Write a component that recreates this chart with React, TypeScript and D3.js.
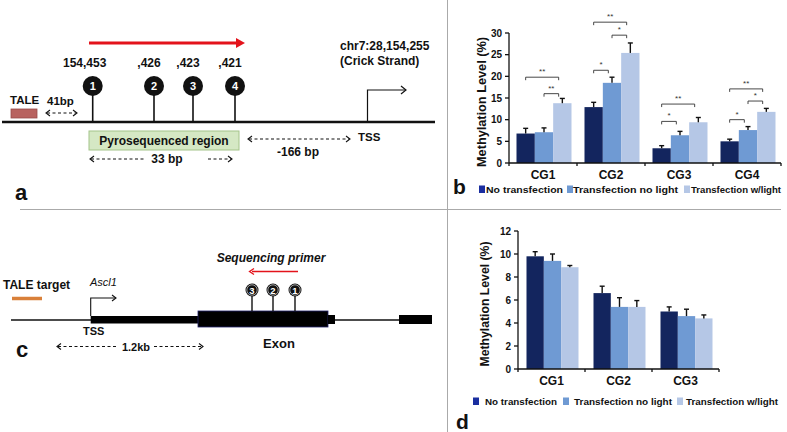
import React from "react";
import * as d3 from "d3";

// ---------- Data ----------
const seriesNames = ["No transfection", "Transfection no light", "Transfection w/light"];
const barColors = ["#13255e", "#6f9ad3", "#b5c7e6"];
const legendColors = ["#1a2ea0", "#6f9ad3", "#b5c7e6"];

// Panel b
const categoriesB = ["CG1", "CG2", "CG3", "CG4"];
const valuesB = [
  [6.8, 12.9, 3.4, 5.0],
  [7.1, 18.5, 6.4, 7.6],
  [13.8, 25.4, 9.4, 11.8],
];
const errTopB = [
  [8.0, 14.0, 4.0, 5.5],
  [8.1, 19.8, 7.3, 8.4],
  [14.9, 27.7, 10.5, 12.6],
];
const yTicksB = [0, 5, 10, 15, 20, 25, 30];
const bracketCat = ["CG1", "CG1", "CG2", "CG2", "CG2", "CG3", "CG3", "CG4", "CG4", "CG4"];
const bracketFrom = [0, 1, 0, 0, 1, 0, 0, 0, 0, 1];
const bracketTo = [2, 2, 1, 2, 2, 2, 1, 2, 1, 2];
const bracketLevel = [19.8, 16.0, 21.4, 32.5, 29.5, 13.6, 9.6, 17.1, 10.0, 14.3];
const bracketLabel = ["**", "**", "*", "**", "*", "**", "*", "**", "*", "*"];

// Panel d
const categoriesD = ["CG1", "CG2", "CG3"];
const valuesD = [
  [9.8, 6.6, 5.0],
  [9.4, 5.4, 4.6],
  [8.85, 5.4, 4.4],
];
const errTopD = [
  [10.2, 7.2, 5.4],
  [10.0, 6.2, 5.2],
  [9.0, 5.95, 4.7],
];
const yTicksD = [0, 2, 4, 6, 8, 10, 12];

// Panel a schematic
const siteNumbersA = ["1", "2", "3", "4"];
const siteLabelsA = ["154,453", ",426", ",423", ",421"];
const sitePosA = [0, 27, 30, 32]; // bp offsets (drawn on a schematic, non-linear axis)
const siteXA = [92.7, 154, 193, 235];

// Panel c schematic
const siteNumbersC = ["3", "2", "1"];
const siteXC = [252, 273, 295];

const FONT = "'Liberation Sans', Arial, Helvetica, sans-serif";

function DashArrow({ x1, x2, y, leftHead = true, rightHead = true, dash = "3,2.5" }: any) {
  return (
    <g stroke="#111" strokeWidth={1.1} fill="none">
      <line x1={x1 + 1} x2={x2 - 1} y1={y} y2={y} strokeDasharray={dash} />
      {leftHead && <polyline points={`${x1 + 4},${y - 3} ${x1},${y} ${x1 + 4},${y + 3}`} />}
      {rightHead && <polyline points={`${x2 - 4},${y - 3} ${x2},${y} ${x2 - 4},${y + 3}`} />}
    </g>
  );
}

function BarChart({
  cats, values, errs, ticks, yMax, x0, x1, yBottom, yTop, inner, brackets, titleX, titleY, titleLen,
}: any) {
  const xB = d3.scaleBand<string>().domain(cats).range([x0, x1]);
  const xS = d3.scaleBand<number>().domain([0, 1, 2]).range(inner);
  const y = d3.scaleLinear().domain([0, yMax]).range([yBottom, yTop]);
  const bw = xS.bandwidth();
  return (
    <g fontFamily={FONT}>
      {values.map((ser: number[], si: number) =>
        ser.map((v: number, ci: number) => {
          const bx = (xB(cats[ci]) as number) + (xS(si) as number);
          const cx = bx + bw / 2;
          return (
            <g key={`${si}-${ci}`}>
              <rect x={bx} y={y(v)} width={bw} height={yBottom - y(v)} fill={barColors[si]} />
              <line x1={cx} x2={cx} y1={y(v)} y2={y(errs[si][ci])} stroke="#111" strokeWidth={1.4} />
              <line x1={cx - 2.5} x2={cx + 2.5} y1={y(errs[si][ci])} y2={y(errs[si][ci])} stroke="#111" strokeWidth={1.4} />
            </g>
          );
        })
      )}
      {/* y axis */}
      <line x1={x0} x2={x0} y1={yBottom} y2={yTop} stroke="#111" strokeWidth={1.3} />
      {ticks.map((t: number) => (
        <g key={t}>
          <line x1={x0 - 4} x2={x0} y1={y(t)} y2={y(t)} stroke="#111" strokeWidth={1.3} />
          <text x={x0 - 7} y={y(t) + 3.5} textAnchor="end" fontSize={10} fontWeight="bold" fill="#111">
            {t}
          </text>
        </g>
      ))}
      {/* x axis */}
      <line x1={x0} x2={x1} y1={yBottom} y2={yBottom} stroke="#111" strokeWidth={1.3} />
      {cats.map((c: string) => (
        <line key={"tk" + c} x1={xB(c) as number} x2={xB(c) as number} y1={yBottom} y2={yBottom + 3} stroke="#111" strokeWidth={1.3} />
      ))}
      <line x1={x1} x2={x1} y1={yBottom} y2={yBottom + 3} stroke="#111" strokeWidth={1.3} />
      {cats.map((c: string) => (
        <text key={"cl" + c} x={(xB(c) as number) + xB.bandwidth() / 2} y={yBottom + 16} textAnchor="middle" fontSize={12} fontWeight="bold" fill="#111">
          {c}
        </text>
      ))}
      {/* title */}
      <text
        transform={`translate(${titleX + 4},${titleY}) rotate(-90)`}
        textAnchor="middle"
        fontSize={12}
        fontWeight="bold"
        fill="#111"
        textLength={titleLen}
        lengthAdjust="spacingAndGlyphs"
      >
        Methylation Level (%)
      </text>
      {brackets &&
        brackets.cat.map((c: string, i: number) => {
          const bxf = (xB(c) as number) + (xS(brackets.from[i]) as number) + bw * 0.5;
          const bxt = (xB(c) as number) + (xS(brackets.to[i]) as number) + bw * 0.3;
          const by = y(brackets.level[i]);
          return (
            <g key={"br" + i}>
              <polyline points={`${bxf},${by + 3} ${bxf},${by} ${bxt},${by} ${bxt},${by + 3}`} fill="none" stroke="#333" strokeWidth={0.9} />
              <text x={(bxf + bxt) / 2} y={by - 3} textAnchor="middle" fontSize={8} fill="#333">
                {brackets.label[i]}
              </text>
            </g>
          );
        })}
    </g>
  );
}

function Legend({ y, swatchX, textX, textLen }: any) {
  return (
    <g fontFamily={FONT}>
      {seriesNames.map((s, i) => (
        <g key={s}>
          <rect x={swatchX[i]} y={y - 7.5} width={6} height={7.5} fill={legendColors[i]} />
          <text
            x={textX[i]}
            y={y}
            fontSize={9.5}
            fontWeight="bold"
            fill="#111"
            textLength={textLen[i]}
            lengthAdjust="spacingAndGlyphs"
          >
            {s}
          </text>
        </g>
      ))}
    </g>
  );
}

export default function App() {
  const siteScale = d3.scaleOrdinal<number, number>().domain(sitePosA).range(siteXA);
  return (
    <svg width={787} height={432} style={{ position: "absolute", left: 0, top: 0, background: "#fff" }} fontFamily={FONT}>
      <rect width={787} height={432} fill="#fff" />
      {/* dividers */}
      <line x1={447.5} x2={447.5} y1={0} y2={432} stroke="#aaa" strokeWidth={1} />
      <line x1={20} x2={781} y1={209.5} y2={209.5} stroke="#aaa" strokeWidth={1} />

      {/* ---------- Panel a ---------- */}
      <g>
        <line x1={2} x2={435} y1={122} y2={122} stroke="#111" strokeWidth={2.5} />
        <rect x={11} y={109} width={26} height={9} fill="#b8625f" stroke="#9a4c4a" strokeWidth={0.8} />
        <text x={10} y={104} fontSize={11.5} fontWeight="bold" fill="#111">TALE</text>
        <text x={47} y={105} fontSize={11.5} fontWeight="bold" fill="#111">41bp</text>
        <DashArrow x1={46} x2={77} y={113} />
        {/* red arrow */}
        <line x1={89} x2={237} y1={43} y2={43} stroke="#e3131b" strokeWidth={3} />
        <polygon points="236,38 245,43 236,48" fill="#e3131b" />
        {sitePosA.map((p, i) => {
          const sx = siteScale(p);
          return (
            <g key={"sa" + i}>
              <line x1={sx} x2={sx} y1={86} y2={122} stroke="#111" strokeWidth={1.6} />
              <circle cx={sx} cy={86} r={10} fill="#111" />
              <text x={sx} y={90} textAnchor="middle" fontSize={11} fontWeight="bold" fill="#fff">
                {siteNumbersA[i]}
              </text>
              <text x={sx - (i === 0 ? 8 : 5)} y={67} textAnchor="middle" fontSize={12} fontWeight="bold" fill="#111">
                {siteLabelsA[i]}
              </text>
            </g>
          );
        })}
        <text x={340} y={50} fontSize={12} fontWeight="bold" fill="#111">chr7:28,154,255</text>
        <text x={340} y={65} fontSize={12} fontWeight="bold" fill="#111">(Crick Strand)</text>
        <polyline points="367.5,122 367.5,90 406,90" fill="none" stroke="#111" strokeWidth={1.2} />
        <polyline points="401,86 406,90 401,94" fill="none" stroke="#111" strokeWidth={1.2} />
        <text x={358} y={141} fontSize={11.5} fontWeight="bold" fill="#111">TSS</text>
        <DashArrow x1={248} x2={350} y={139} />
        <text x={298} y={156} textAnchor="middle" fontSize={12} fontWeight="bold" fill="#111">-166 bp</text>
        <rect x={89} y={131} width={150} height={19} fill="#d5e8c4" stroke="#a4c48a" strokeWidth={1} />
        <text x={164} y={145} textAnchor="middle" fontSize={12} fill="#111" fontWeight={600}>Pyrosequenced region</text>
        <DashArrow x1={90} x2={146} y={159} rightHead={false} />
        <text x={167} y={163} textAnchor="middle" fontSize={12} fontWeight="bold" fill="#111">33 bp</text>
        <DashArrow x1={207} x2={232} y={159} leftHead={false} />
        <text x={15} y={200} fontSize={22} fontWeight="bold" fill="#111">a</text>
      </g>

      {/* ---------- Panel c ---------- */}
      <g>
        <line x1={11} x2={431} y1={320} y2={320} stroke="#111" strokeWidth={1.5} />
        <rect x={90.7} y={316} width={107.3} height={7.5} fill="#000" />
        <rect x={198} y={311} width={130} height={16} fill="#000" stroke="#22226a" strokeWidth={0.8} />
        <rect x={328} y={315} width={7} height={9} fill="#000" />
        <rect x={399} y={315} width={33} height={9} fill="#000" />
        <text x={3} y={289} fontSize={12} fontWeight="bold" fill="#111">TALE target</text>
        <line x1={12} x2={42} y1={298.5} y2={298.5} stroke="#d9803a" strokeWidth={3.5} />
        <text x={90} y={286} fontSize={11} fontStyle="italic" fill="#111">Ascl1</text>
        <polyline points="90.7,316 90.7,298 116,298" fill="none" stroke="#111" strokeWidth={1.1} />
        <polyline points="112,295 116,298 112,301" fill="none" stroke="#111" strokeWidth={1.1} />
        <text x={83} y={335} fontSize={11} fontWeight="bold" fill="#111">TSS</text>
        <DashArrow x1={57} x2={119} y={346.5} rightHead={false} />
        <DashArrow x1={153} x2={203} y={346.5} leftHead={false} />
        <text x={136} y={351} textAnchor="middle" fontSize={11} fontWeight="bold" fill="#111">1.2kb</text>
        <text x={279} y={348} textAnchor="middle" fontSize={13} fontWeight="bold" fill="#111">Exon</text>
        <text x={271} y={262} textAnchor="middle" fontSize={12} fontWeight="bold" fontStyle="italic" fill="#111">Sequencing primer</text>
        <line x1={252} x2={298} y1={271.5} y2={271.5} stroke="#e3131b" strokeWidth={1.3} />
        <polyline points="254,268.5 249.5,271.5 254,274.5" fill="none" stroke="#e3131b" strokeWidth={1.3} />
        {siteXC.map((sx, i) => (
          <g key={"sc" + i}>
            <line x1={sx} x2={sx} y1={290} y2={311} stroke="#111" strokeWidth={1.4} />
            <circle cx={sx} cy={290} r={6.5} fill="#111" />
            <circle cx={sx} cy={290} r={5.2} fill="none" stroke="#fff" strokeWidth={0.6} />
            <text x={sx} y={293.5} textAnchor="middle" fontSize={9.5} fontWeight="bold" fill="#fff">
              {siteNumbersC[i]}
            </text>
          </g>
        ))}
        <text x={16} y={357} fontSize={22} fontWeight="bold" fill="#111">c</text>
      </g>

      {/* ---------- Panel b ---------- */}
      <BarChart
        cats={categoriesB}
        values={valuesB}
        errs={errTopB}
        ticks={yTicksB}
        yMax={30}
        x0={509}
        x1={781}
        yBottom={163}
        yTop={33}
        inner={[7.5, 62.5]}
        titleX={482}
        titleY={102}
        titleLen={130}
        brackets={{ cat: bracketCat, from: bracketFrom, to: bracketTo, level: bracketLevel, label: bracketLabel }}
      />
      <text x={453} y={194} fontSize={21} fontWeight="bold" fill="#111" fontFamily={FONT}>b</text>
      <Legend y={193} swatchX={[479, 567, 684]} textX={[486, 573, 691]} textLen={[77, 105, 90]} />

      {/* ---------- Panel d ---------- */}
      <BarChart
        cats={categoriesD}
        values={valuesD}
        errs={errTopD}
        ticks={yTicksD}
        yMax={12}
        x0={518}
        x1={719}
        yBottom={369}
        yTop={231}
        inner={[8.5, 60.5]}
        titleX={485}
        titleY={304}
        titleLen={125}
      />
      <text x={456} y={429} fontSize={21} fontWeight="bold" fill="#111" fontFamily={FONT}>d</text>
      <Legend y={405} swatchX={[473, 563, 677]} textX={[485, 574, 686]} textLen={[72, 98, 92]} />
    </svg>
  );
}
